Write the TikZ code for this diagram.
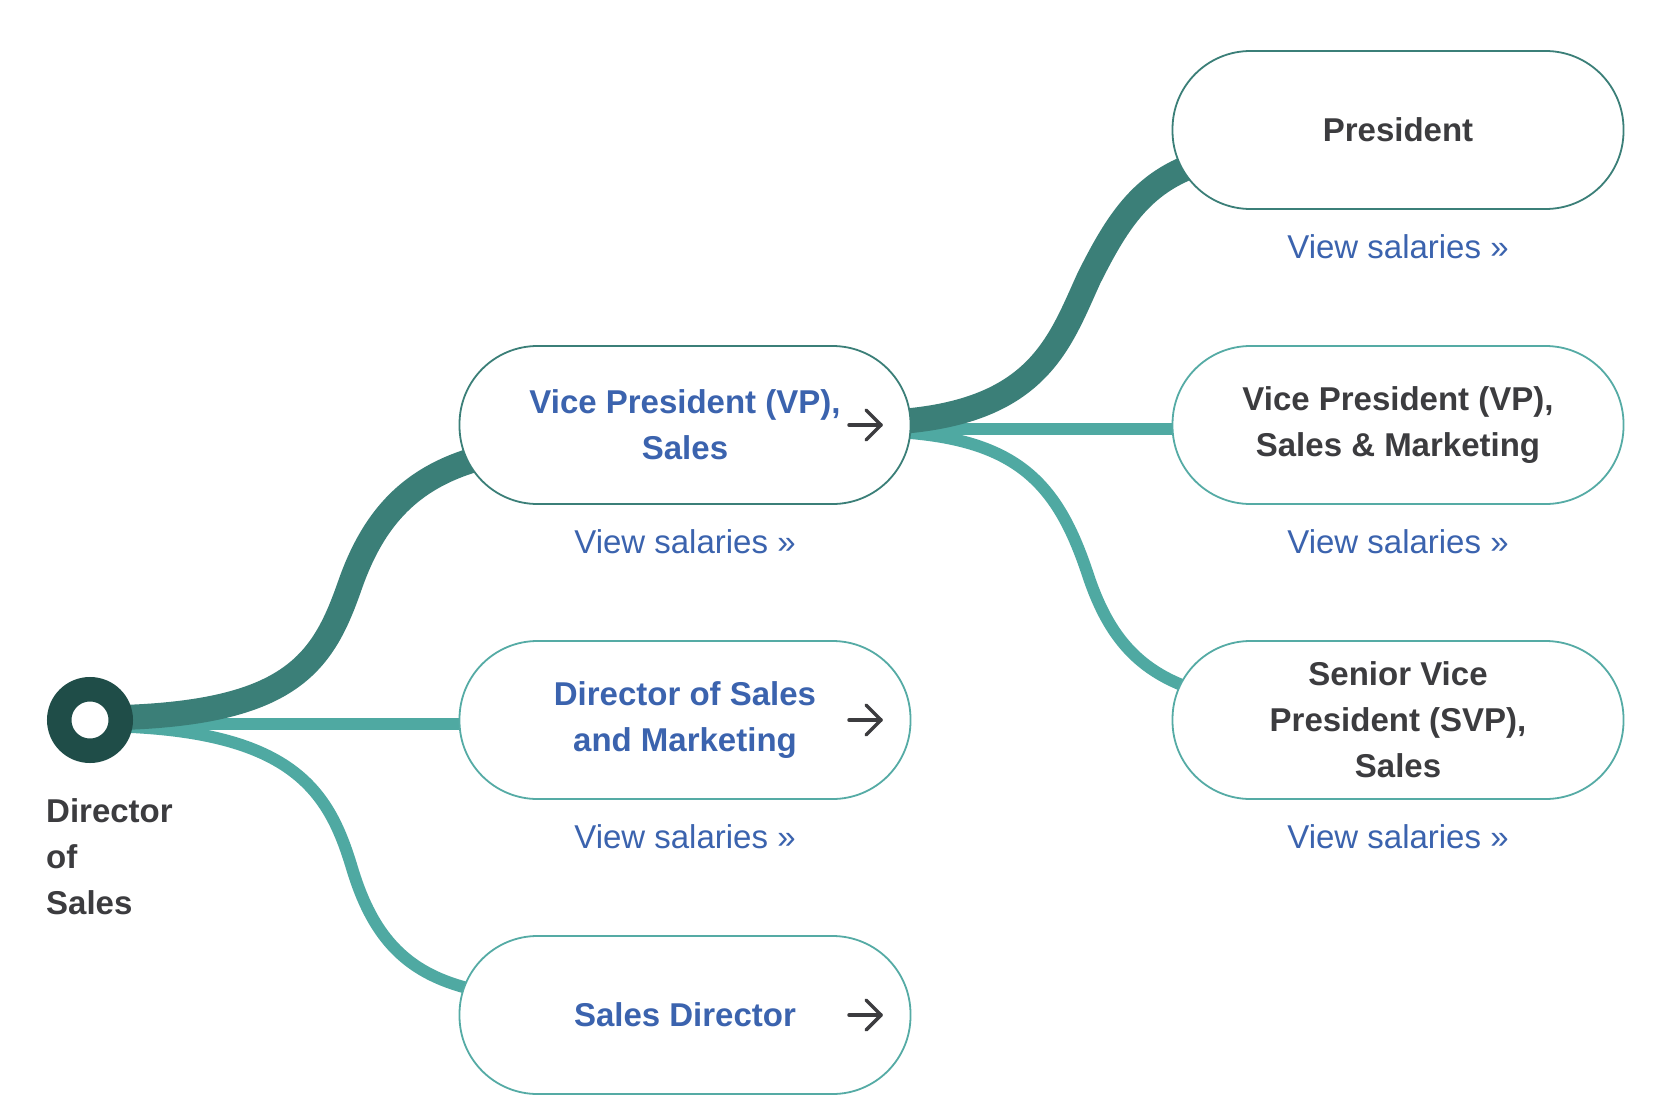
\documentclass[tikz,border=0pt]{standalone}
\usepackage{fontspec}
\setmainfont{Liberation Sans}
\usetikzlibrary{calc}
\definecolor{tealdark}{HTML}{3B7F78}
\definecolor{teallight}{HTML}{4FA9A2}
\definecolor{rootcol}{HTML}{1F4D48}
\definecolor{linkblue}{HTML}{3B63AE}
\definecolor{txtgray}{HTML}{3C3C3F}
\definecolor{bordlight}{HTML}{55ABA5}
\pgfdeclarelayer{bg}
\pgfdeclarelayer{paper}
\pgfsetlayers{paper,bg,main}
\begin{document}
\begin{tikzpicture}[x=1pt,y=-1pt,
 card/.style={draw=bordlight, line width=1.8pt, fill=white, rectangle, rounded corners=78pt, minimum width=451pt, minimum height=158pt, inner sep=0pt, align=center, font=\fontsize{33}{46}\selectfont\bfseries},
 cardtop/.style={card, draw=tealdark},
 salary/.style={font=\fontsize{33}{40}\selectfont, text=linkblue, inner sep=0pt},
 thickline/.style={draw=tealdark, line width=25pt},
 thinline/.style={draw=teallight, line width=12pt},
 goarrow/.style={draw=txtgray, line width=3.5pt, line cap=round, line join=round},
]
\begin{pgfonlayer}{paper}
\fill[white] (0,0) rectangle (1664,1110);
\end{pgfonlayer}
\useasboundingbox (0,0) rectangle (1664,1110);

% root
\node[circle, draw=rootcol, line width=24.5pt, fill=white, minimum size=61.5pt, inner sep=0pt] (root) at (90,720) {};
\node[anchor=north west, align=left, inner sep=0pt, font=\fontsize{33}{46}\selectfont\bfseries, text=txtgray] (rootlabel) at (46,798) {Director\\of\\Sales};

% cards
\node[cardtop, text=linkblue] (vps) at (685,425) {Vice President (VP),\\Sales};
\node[card, text=linkblue] (dsm) at (685,720) {Director of Sales\\and Marketing};
\node[card, text=linkblue] (sd) at (685,1015) {Sales Director};
\node[cardtop, text=txtgray] (pres) at (1398,130) {President};
\node[card, text=txtgray] (vpsm) at (1398,425) {Vice President (VP),\\Sales \& Marketing};
\node[card, text=txtgray] (svp) at (1398,720) {Senior Vice\\President (SVP),\\Sales};

% salary links
\node[salary] (vs1) at ($(vps.center)+(0,117)$) {View salaries »};
\node[salary] (vs2) at ($(dsm.center)+(0,117)$) {View salaries »};
\node[salary] (vs3) at ($(pres.center)+(0,117)$) {View salaries »};
\node[salary] (vs4) at ($(vpsm.center)+(0,117)$) {View salaries »};
\node[salary] (vs5) at ($(svp.center)+(0,117)$) {View salaries »};

% arrow icons
\foreach \n in {vps,dsm,sd}{
  \draw[goarrow] ($(\n.center)+(164,0)$) -- ($(\n.center)+(196,0)$);
  \draw[goarrow] ($(\n.center)+(181,-15)$) -- ($(\n.center)+(196,0)$) -- ($(\n.center)+(181,15)$);
}

\begin{pgfonlayer}{bg}
% thin connectors
\draw[thinline] ($(root.center)+(0,4)$) -- ($(dsm.center)+(0,4)$);
\draw[thinline] ($(root.center)+(0,6)$) .. controls ($(root.center)+(200,6)$) and ($(root.center)+(238,68)$) .. ($(root.center)+(262,148)$)
  .. controls ($(sd.center)+(-300,-37)$) and ($(sd.center)+(-235,-15)$) .. ($(sd.center)+(-85,-15)$);
\draw[thinline] ($(vps.center)+(0,4)$) -- ($(vpsm.center)+(0,4)$);
\draw[thinline] ($(vps.center)+(175,6)$) .. controls ($(vps.center)+(325,6)$) and ($(vps.center)+(370,50)$) .. ($(vps.center)+(403,150)$)
  .. controls ($(svp.center)+(-280,-55)$) and ($(svp.center)+(-228,-15)$) .. ($(svp.center)+(-78,-15)$);
% thick connectors
\draw[thickline] ($(root.center)+(0,-2)$) .. controls ($(root.center)+(200,-2)$) and ($(root.center)+(232,-55)$) .. ($(root.center)+(260,-135)$)
  .. controls ($(vps.center)+(-300,60)$) and ($(vps.center)+(-235,20)$) .. ($(vps.center)+(-85,20)$);
\draw[thickline] ($(vps.center)+(175,-2)$) .. controls ($(vps.center)+(350,-2)$) and ($(vps.center)+(372,-77)$) .. ($(vps.center)+(404,-147)$)
  .. controls ($(pres.center)+(-266,62)$) and ($(pres.center)+(-232,20)$) .. ($(pres.center)+(-92,20)$);
\end{pgfonlayer}
\end{tikzpicture}
\end{document}
